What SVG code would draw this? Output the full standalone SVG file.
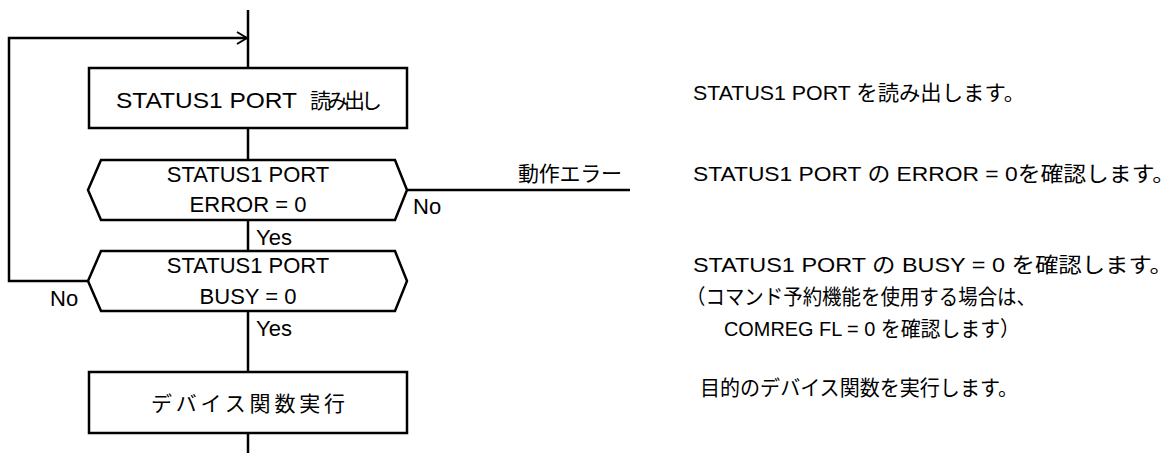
<svg xmlns="http://www.w3.org/2000/svg" width="1176" height="453" viewBox="0 0 1176 453">
<style>
text{font-family:"Liberation Sans","Noto Sans CJK JP",sans-serif;font-size:22px;fill:#000;dominant-baseline:central}
.c{text-anchor:middle}
.j{font-size:21px}
.s{fill:#fff;stroke:#000;stroke-width:2.5}
.l{fill:none;stroke:#000;stroke-width:2.5}
.r{font-size:21px}
</style>
<defs>
<marker id="open" viewBox="0 0 12 14" refX="11" refY="7" markerWidth="12" markerHeight="14" markerUnits="userSpaceOnUse" orient="auto">
<polyline points="1,1 11,7 1,13" fill="none" stroke="#000" stroke-width="2"/>
</marker>
</defs>
<rect width="1176" height="453" fill="#fff"/>
<g id="connectors">
<path class="l" d="M248 10 V68"/>
<path class="l" d="M248 128 V160"/>
<path class="l" d="M248 220 V251"/>
<path class="l" d="M248 311 V372"/>
<path class="l" d="M248 433 V453"/>
<path class="l" d="M88 281 H9 V38 H247" marker-end="url(#open)"/>
<path class="l" d="M407 190 H630"/>
<text x="256" y="237">Yes</text>
<text x="256" y="328">Yes</text>
<text x="413" y="206">No</text>
<text x="50" y="298">No</text>
<text class="j" x="518" y="173" textLength="104" lengthAdjust="spacing">動作エラー</text>
</g>
<g id="read">
<rect class="s" x="89" y="68" width="318" height="60"/>
<text x="116" y="100" font-size="24" textLength="181" lengthAdjust="spacingAndGlyphs">STATUS1 PORT</text>
<text class="j" x="310" y="100" textLength="72" lengthAdjust="spacing">読み出し</text>
</g>
<g id="check-error">
<polygon class="s" points="101,160 395,160 407,190 395,220 101,220 88,190"/>
<text class="c" x="248" y="174">STATUS1 PORT</text>
<text class="c" x="248" y="204">ERROR = 0</text>
</g>
<g id="check-busy">
<polygon class="s" points="101,251 395,251 407,281 395,311 101,311 88,281"/>
<text class="c" x="248" y="265">STATUS1 PORT</text>
<text class="c" x="248" y="296">BUSY = 0</text>
</g>
<g id="exec">
<rect class="s" x="89" y="372" width="318" height="61"/>
<text class="j" x="151" y="403" textLength="194" lengthAdjust="spacing">デバイス関数実行</text>
</g>
<g id="notes">
<text class="r" x="693" y="92" textLength="332" lengthAdjust="spacingAndGlyphs">STATUS1 PORT を読み出します。</text>
<text class="r" x="693" y="173" textLength="482" lengthAdjust="spacingAndGlyphs">STATUS1 PORT の ERROR = 0を確認します。</text>
<text class="r" x="693" y="264" textLength="480" lengthAdjust="spacingAndGlyphs">STATUS1 PORT の BUSY = 0 を確認します。</text>
<text class="r" x="686" y="296" textLength="350" lengthAdjust="spacingAndGlyphs">（コマンド予約機能を使用する場合は、</text>
<text class="r" x="724" y="328" textLength="296" lengthAdjust="spacingAndGlyphs">COMREG FL = 0 を確認します）</text>
<text class="r" x="700" y="387" textLength="318" lengthAdjust="spacingAndGlyphs">目的のデバイス関数を実行します。</text>
</g>
</svg>
